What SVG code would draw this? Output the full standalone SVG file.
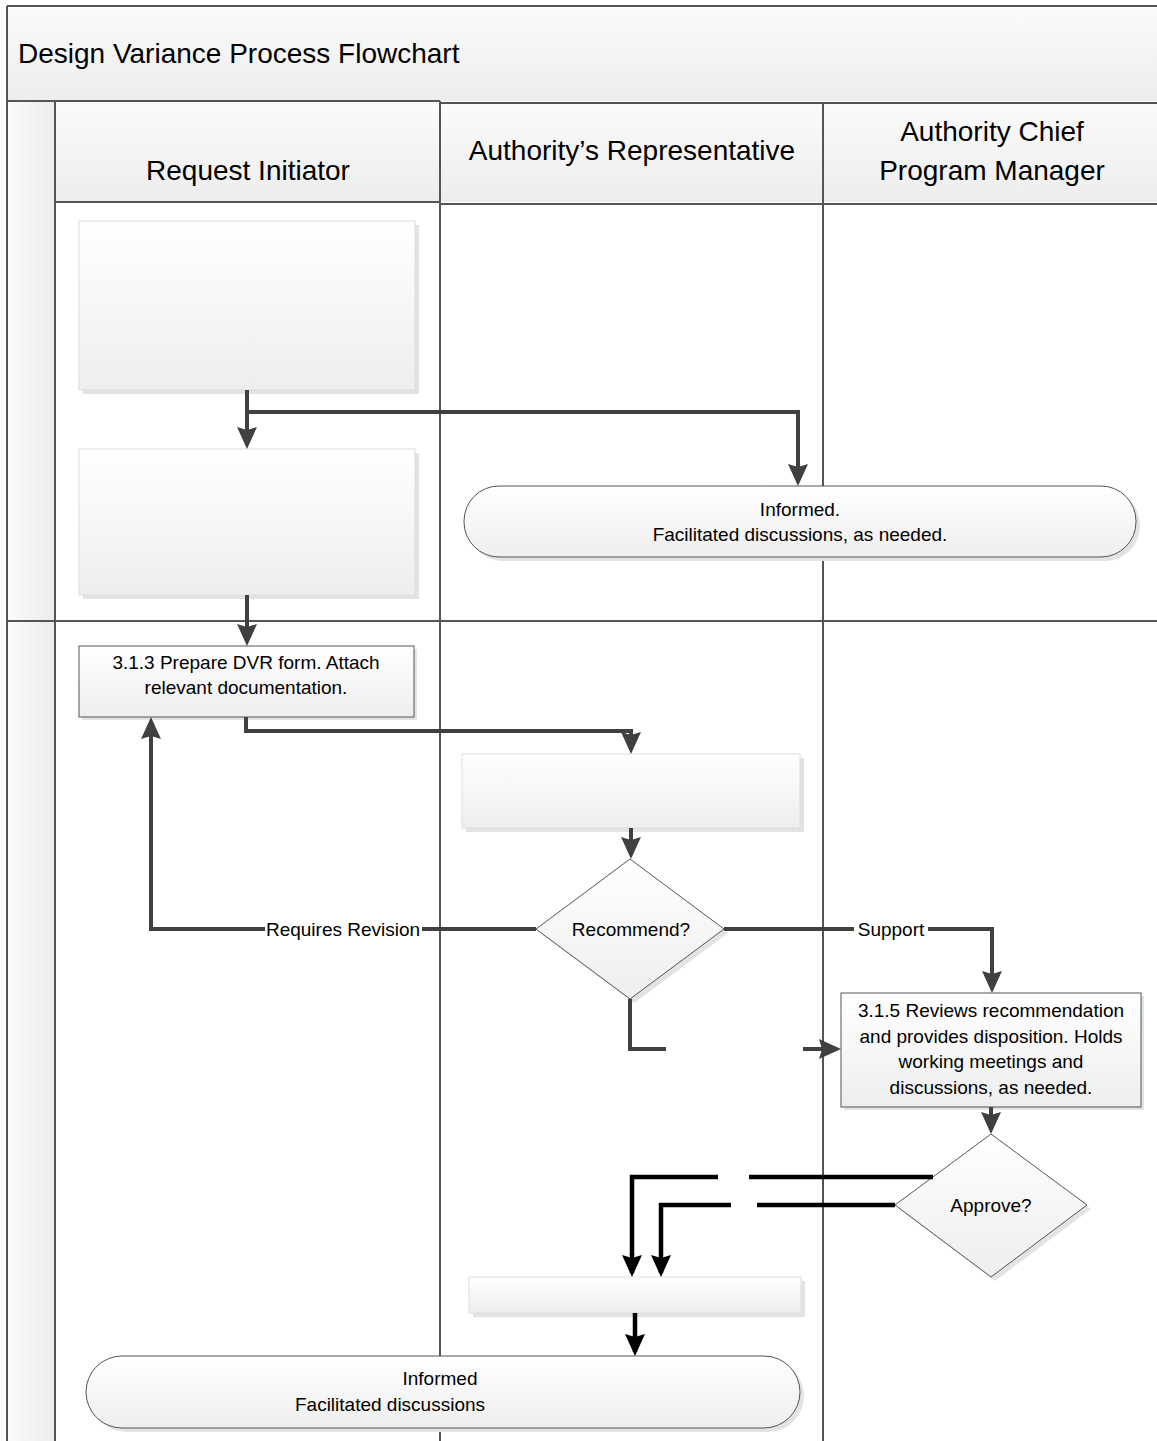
<svg xmlns="http://www.w3.org/2000/svg" width="1157" height="1441" viewBox="0 0 1157 1441">
<defs>
<linearGradient id="boxGrad" x1="0" y1="0" x2="0" y2="1"><stop offset="0" stop-color="#ffffff"/><stop offset="1" stop-color="#eeeeee"/></linearGradient>
<linearGradient id="headGrad" x1="0" y1="0" x2="0" y2="1"><stop offset="0" stop-color="#fbfbfb"/><stop offset="1" stop-color="#ededed"/></linearGradient>
<linearGradient id="leftGrad" x1="0" y1="0" x2="1" y2="0"><stop offset="0" stop-color="#fbfbfb"/><stop offset="1" stop-color="#ececec"/></linearGradient>
<marker id="arr" markerUnits="userSpaceOnUse" markerWidth="22" markerHeight="20" viewBox="0 0 22 20" refX="18" refY="10" orient="auto"><path d="M0,0 L22,10 L0,20 L3,10 z" fill="#404040"/></marker>
<marker id="arrB" markerUnits="userSpaceOnUse" markerWidth="22" markerHeight="20" viewBox="0 0 22 20" refX="18" refY="10" orient="auto"><path d="M0,0 L22,10 L0,20 L3,10 z" fill="#000000"/></marker>
</defs>
<style>
.frame{stroke:#555555;stroke-width:2;fill:none}
.shadow{fill:#e3e3e3}
.empty{fill:url(#boxGrad);stroke:#dddddd;stroke-width:1}
.proc{fill:url(#boxGrad);stroke:#555555;stroke-width:1}
.term{fill:url(#boxGrad);stroke:#555555;stroke-width:1}
.dia{fill:url(#boxGrad);stroke:#555555;stroke-width:1}
.c{fill:none;stroke:#404040;stroke-width:4;marker-end:url(#arr)}
.cn{fill:none;stroke:#404040;stroke-width:4}
.b{fill:none;stroke:#000000;stroke-width:4.5;marker-end:url(#arrB)}
.bn{fill:none;stroke:#000000;stroke-width:4.5}
text{font-family:"Liberation Sans",Arial,sans-serif;fill:#000000}
.t{font-size:28px}
.h{font-size:28px;text-anchor:middle}
.n{font-size:19px;text-anchor:middle}
</style>
<rect x="0" y="0" width="1157" height="1441" fill="#ffffff"/>
<g id="pool">
<rect x="7" y="6" width="1150" height="95" fill="url(#headGrad)"/>
<rect x="7" y="101" width="48" height="1340" fill="url(#leftGrad)"/>
<rect x="55" y="101" width="1102" height="101" fill="url(#headGrad)"/>
<line class="frame" x1="7" y1="6" x2="1157" y2="6"/>
<line class="frame" x1="7" y1="6" x2="7" y2="1441"/>
<line class="frame" x1="7" y1="101" x2="440" y2="101"/>
<line class="frame" x1="440" y1="103" x2="1157" y2="103"/>
<line class="frame" x1="55" y1="202" x2="440" y2="202"/>
<line class="frame" x1="440" y1="204" x2="1157" y2="204"/>
<line class="frame" x1="7" y1="621" x2="1157" y2="621"/>
<line class="frame" x1="55" y1="101" x2="55" y2="1441"/>
<line class="frame" x1="440" y1="101" x2="440" y2="1441"/>
<line class="frame" x1="823" y1="103" x2="823" y2="1441"/>
<text class="t" x="18" y="63">Design Variance Process Flowchart</text>
<text class="h" x="248" y="180">Request Initiator</text>
<text class="h" x="632" y="160">Authority’s Representative</text>
<text class="h" x="992" y="141">Authority Chief</text>
<text class="h" x="992" y="180">Program Manager</text>
</g>
<g id="node-box1"><rect class="shadow" x="83" y="225" width="336" height="169"/><rect class="empty" x="79" y="221" width="336" height="169"/></g>
<g id="node-box2"><rect class="shadow" x="83" y="453" width="336" height="146"/><rect class="empty" x="79" y="449" width="336" height="146"/></g>
<g id="node-informed1"><rect class="shadow" x="468" y="490" width="672" height="71" rx="35" ry="35"/><rect class="term" x="464" y="486" width="672" height="71" rx="35" ry="35"/>
<text class="n" x="800" y="516">Informed.</text><text class="n" x="800" y="541">Facilitated discussions, as needed.</text></g>
<g id="node-313"><rect class="shadow" x="82" y="649" width="335" height="71"/><rect class="proc" x="79" y="646" width="335" height="71"/>
<text class="n" x="246" y="669">3.1.3 Prepare DVR form. Attach</text><text class="n" x="246" y="694">relevant documentation.</text></g>
<g id="node-box3"><rect class="shadow" x="466" y="758" width="338" height="74"/><rect class="empty" x="462" y="754" width="338" height="74"/></g>
<g id="node-recommend"><polygon class="shadow" points="634,863 728,933 634,1003 540,933"/><polygon class="dia" points="630,859 724,929 630,999 536,929"/>
<text class="n" x="631" y="936">Recommend?</text></g>
<g id="node-315"><rect class="shadow" x="844" y="996" width="300" height="114"/><rect class="proc" x="841" y="993" width="300" height="114"/>
<text class="n" x="991" y="1017">3.1.5 Reviews recommendation</text><text class="n" x="991" y="1043">and provides disposition. Holds</text><text class="n" x="991" y="1068">working meetings and</text><text class="n" x="991" y="1094">discussions, as needed.</text></g>
<g id="node-approve"><polygon class="shadow" points="995,1138 1091,1209 995,1281 899,1209"/><polygon class="dia" points="991,1134 1087,1205 991,1277 895,1205"/>
<text class="n" x="991" y="1212">Approve?</text></g>
<g id="node-box4"><rect class="shadow" x="473" y="1281" width="332" height="36"/><rect class="empty" x="469" y="1277" width="332" height="36"/></g>
<g id="node-informed2"><rect class="shadow" x="90" y="1360" width="714" height="72" rx="36" ry="36"/><rect class="term" x="86" y="1356" width="714" height="72" rx="36" ry="36"/>
<text class="n" x="440" y="1385">Informed</text><text class="n" x="390" y="1411">Facilitated discussions</text></g>
<g id="connectors">
<path class="c" d="M247,390 V445"/>
<path class="c" d="M247,412 H798 V482"/>
<path class="c" d="M247,595 V642"/>
<path class="c" d="M246,717 V731 H631 V750"/>
<path class="c" d="M631,828 V855"/>
<path class="c" d="M536,929 H151 V721"/>
<path class="c" d="M724,929 H992 V989"/>
<path class="cn" d="M630,999 V1049 H666"/>
<path class="c" d="M803,1049 H837"/>
<path class="c" d="M991,1107 V1130"/>
<path class="bn" d="M933,1177 H749"/>
<path class="b" d="M718,1177 H632 V1273"/>
<path class="bn" d="M895,1205 H757"/>
<path class="b" d="M731,1205 H661 V1273"/>
<path class="b" d="M635,1313 V1352"/>
<rect x="265" y="917" width="157" height="24" fill="#ffffff"/>
<text class="n" x="343" y="936">Requires Revision</text>
<rect x="854" y="917" width="74" height="24" fill="#ffffff"/>
<text class="n" x="891" y="936">Support</text>
</g>
</svg>
